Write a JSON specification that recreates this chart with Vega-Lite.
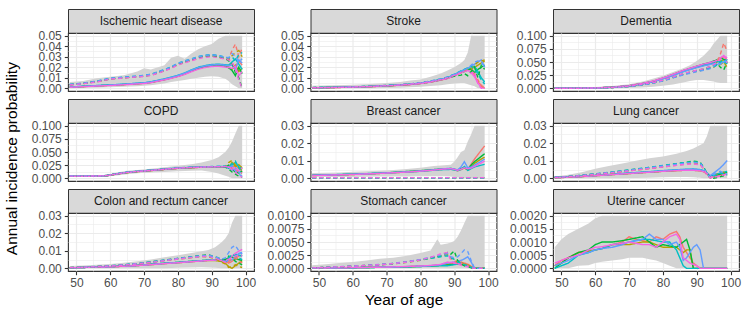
{
"$schema":"https://vega.github.io/schema/vega-lite/v6.json",
"padding":{"left":5,"top":8,"right":5,"bottom":5},
"title":{"text":"Annual incidence probability","orient":"left","anchor":"middle","fontSize":15.5,"fontWeight":"normal","font":"Liberation Sans","color":"#000000","offset":10},
"config":{
 "font":"Liberation Sans",
 "view":{"stroke":"#333333","strokeWidth":1.1},
 "axis":{"labelFont":"Liberation Sans","labelFontSize":12,"labelColor":"#4d4d4d","labelPadding":3,"tickColor":"#333333","tickSize":3.7,"tickWidth":1.1,"domain":false,"grid":true,"gridColor":"#ebebeb","titleFont":"Liberation Sans","titleFontSize":15.5,"titleFontWeight":"normal","titleColor":"#000000","titlePadding":4,"labelFlush":false,"labelOverlap":false}
},
"datasets":{"rows":[
{"d":"IHD","a":48,"lo":0,"hi":0.006,"s1":0.0012,"s2":0.0011,"s3":0.0012,"s4":0.0013,"s5":0.0012,"s6":0.001,"t1":0.0035,"t2":0.0033,"t3":0.0034,"t4":0.0037,"t5":0.0036,"t6":0.0032},
{"d":"IHD","a":52,"lo":0.0003,"hi":0.007,"s1":0.0018,"s2":0.0017,"s3":0.0018,"s4":0.002,"s5":0.0019,"s6":0.0016,"t1":0.0048,"t2":0.0046,"t3":0.0047,"t4":0.005,"t5":0.0049,"t6":0.0044},
{"d":"IHD","a":56,"lo":0.0006,"hi":0.0095,"s1":0.0025,"s2":0.0024,"s3":0.0025,"s4":0.0027,"s5":0.0026,"s6":0.0022,"t1":0.0065,"t2":0.0063,"t3":0.0064,"t4":0.0068,"t5":0.0067,"t6":0.006},
{"d":"IHD","a":60,"lo":0.001,"hi":0.011,"s1":0.003,"s2":0.0029,"s3":0.003,"s4":0.0033,"s5":0.0032,"s6":0.0027,"t1":0.0092,"t2":0.009,"t3":0.0091,"t4":0.0096,"t5":0.0095,"t6":0.0088},
{"d":"IHD","a":64,"lo":0.0015,"hi":0.0125,"s1":0.0037,"s2":0.0036,"s3":0.0037,"s4":0.004,"s5":0.0039,"s6":0.0034,"t1":0.0102,"t2":0.01,"t3":0.0101,"t4":0.0106,"t5":0.0105,"t6":0.0098},
{"d":"IHD","a":68,"lo":0.002,"hi":0.016,"s1":0.0046,"s2":0.0044,"s3":0.0045,"s4":0.0049,"s5":0.0048,"s6":0.0042,"t1":0.0112,"t2":0.011,"t3":0.0111,"t4":0.0117,"t5":0.0116,"t6":0.0108},
{"d":"IHD","a":70,"lo":0.0025,"hi":0.019,"s1":0.005,"s2":0.0048,"s3":0.0049,"s4":0.0053,"s5":0.0052,"s6":0.0046,"t1":0.0118,"t2":0.0115,"t3":0.0117,"t4":0.0123,"t5":0.0122,"t6":0.0113},
{"d":"IHD","a":72,"lo":0.003,"hi":0.018,"s1":0.0058,"s2":0.0056,"s3":0.0057,"s4":0.0062,"s5":0.0061,"s6":0.0054,"t1":0.0128,"t2":0.0125,"t3":0.0127,"t4":0.0134,"t5":0.0133,"t6":0.0122},
{"d":"IHD","a":76,"lo":0.0045,"hi":0.022,"s1":0.0085,"s2":0.0082,"s3":0.0084,"s4":0.009,"s5":0.0088,"s6":0.008,"t1":0.0172,"t2":0.0168,"t3":0.017,"t4":0.0178,"t5":0.0176,"t6":0.0165},
{"d":"IHD","a":78,"lo":0.006,"hi":0.029,"s1":0.01,"s2":0.0097,"s3":0.0099,"s4":0.0106,"s5":0.0104,"s6":0.0095,"t1":0.0198,"t2":0.0193,"t3":0.0196,"t4":0.0205,"t5":0.0203,"t6":0.019},
{"d":"IHD","a":80,"lo":0.007,"hi":0.031,"s1":0.0118,"s2":0.0114,"s3":0.0116,"s4":0.0124,"s5":0.0122,"s6":0.0111,"t1":0.023,"t2":0.0225,"t3":0.0228,"t4":0.0238,"t5":0.0236,"t6":0.0222},
{"d":"IHD","a":82,"lo":0.008,"hi":0.028,"s1":0.014,"s2":0.0136,"s3":0.0138,"s4":0.0146,"s5":0.0144,"s6":0.0132,"t1":0.0252,"t2":0.0247,"t3":0.025,"t4":0.026,"t5":0.0258,"t6":0.0243},
{"d":"IHD","a":84,"lo":0.009,"hi":0.033,"s1":0.0168,"s2":0.0163,"s3":0.0166,"s4":0.0175,"s5":0.0172,"s6":0.0158,"t1":0.0272,"t2":0.0266,"t3":0.027,"t4":0.028,"t5":0.0278,"t6":0.0262},
{"d":"IHD","a":86,"lo":0.01,"hi":0.037,"s1":0.0192,"s2":0.0187,"s3":0.019,"s4":0.02,"s5":0.0197,"s6":0.0182,"t1":0.0292,"t2":0.0286,"t3":0.029,"t4":0.0302,"t5":0.0299,"t6":0.0282},
{"d":"IHD","a":88,"lo":0.011,"hi":0.04,"s1":0.0208,"s2":0.0203,"s3":0.0206,"s4":0.0216,"s5":0.0213,"s6":0.0198,"t1":0.0305,"t2":0.03,"t3":0.0303,"t4":0.0315,"t5":0.0312,"t6":0.0295},
{"d":"IHD","a":90,"lo":0.0115,"hi":0.042,"s1":0.0218,"s2":0.0212,"s3":0.0215,"s4":0.0226,"s5":0.0222,"s6":0.0207,"t1":0.031,"t2":0.0305,"t3":0.0308,"t4":0.032,"t5":0.0318,"t6":0.03},
{"d":"IHD","a":92,"lo":0.011,"hi":0.047,"s1":0.0222,"s2":0.0215,"s3":0.0218,"s4":0.023,"s5":0.0226,"s6":0.021,"t1":0.0302,"t2":0.0296,"t3":0.03,"t4":0.0312,"t5":0.031,"t6":0.0292},
{"d":"IHD","a":94,"lo":0.009,"hi":0.05,"s1":0.0215,"s2":0.0208,"s3":0.021,"s4":0.0224,"s5":0.022,"s6":0.0202,"t1":0.0285,"t2":0.028,"t3":0.0283,"t4":0.0295,"t5":0.0292,"t6":0.0275},
{"d":"IHD","a":95,"lo":0.007,"hi":0.05,"s1":0.021,"s2":0.02,"s3":0.0195,"s4":0.022,"s5":0.0215,"s6":0.0198,"t1":0.028,"t2":0.027,"t3":0.026,"t4":0.029,"t5":0.029,"t6":0.027},
{"d":"IHD","a":96,"lo":0.004,"hi":0.05,"s1":0.024,"s2":0.018,"s3":0.017,"s4":0.025,"s5":0.022,"s6":0.019,"t1":0.036,"t2":0.031,"t3":0.024,"t4":0.03,"t5":0.033,"t6":0.025},
{"d":"IHD","a":97,"lo":0.002,"hi":0.05,"s1":0.02,"s2":0.022,"s3":0.012,"s4":0.028,"s5":0.018,"s6":0.021,"t1":0.042,"t2":0.034,"t3":0.015,"t4":0.026,"t5":0.03,"t6":0.018},
{"d":"IHD","a":98,"lo":0,"hi":0.05,"s1":0.026,"s2":0.016,"s3":0.02,"s4":0.023,"s5":0.027,"s6":0.012,"t1":0.03,"t2":0.036,"t3":0.01,"t4":0.032,"t5":0.025,"t6":0.008},
{"d":"IHD","a":99,"lo":0,"hi":0.05,"s1":0.022,"s2":0.019,"s3":0.014,"s4":0.018,"s5":0.024,"s6":0.016,"t1":0.038,"t2":0.03,"t3":0,"t4":0.034,"t5":0.028,"t6":0},

{"d":"STR","a":48,"lo":0,"hi":0.0025,"s1":0.0006,"s2":0.0005,"s3":0.0006,"s4":0.0006,"s5":0.0006,"s6":0.0005,"t1":0.0007,"t2":0.0006,"t3":0.0007,"t4":0.0007,"t5":0.0007,"t6":0.0006},
{"d":"STR","a":55,"lo":0,"hi":0.003,"s1":0.0009,"s2":0.0008,"s3":0.0009,"s4":0.001,"s5":0.0009,"s6":0.0008,"t1":0.001,"t2":0.0009,"t3":0.001,"t4":0.0011,"t5":0.001,"t6":0.0009},
{"d":"STR","a":60,"lo":0,"hi":0.0035,"s1":0.0012,"s2":0.0011,"s3":0.0012,"s4":0.0013,"s5":0.0012,"s6":0.0011,"t1":0.0014,"t2":0.0013,"t3":0.0014,"t4":0.0015,"t5":0.0014,"t6":0.0013},
{"d":"STR","a":65,"lo":0.0002,"hi":0.0042,"s1":0.0017,"s2":0.0016,"s3":0.0017,"s4":0.0018,"s5":0.0017,"s6":0.0016,"t1":0.0019,"t2":0.0018,"t3":0.0019,"t4":0.002,"t5":0.0019,"t6":0.0018},
{"d":"STR","a":70,"lo":0.0004,"hi":0.005,"s1":0.0024,"s2":0.0023,"s3":0.0024,"s4":0.0026,"s5":0.0025,"s6":0.0023,"t1":0.0027,"t2":0.0025,"t3":0.0026,"t4":0.0028,"t5":0.0027,"t6":0.0025},
{"d":"STR","a":74,"lo":0.0007,"hi":0.006,"s1":0.0031,"s2":0.003,"s3":0.0031,"s4":0.0033,"s5":0.0032,"s6":0.003,"t1":0.0034,"t2":0.0032,"t3":0.0033,"t4":0.0035,"t5":0.0034,"t6":0.0032},
{"d":"STR","a":77,"lo":0.001,"hi":0.0075,"s1":0.0038,"s2":0.0037,"s3":0.0038,"s4":0.004,"s5":0.0039,"s6":0.0036,"t1":0.0041,"t2":0.0039,"t3":0.004,"t4":0.0043,"t5":0.0042,"t6":0.0039},
{"d":"STR","a":80,"lo":0.0015,"hi":0.0085,"s1":0.0048,"s2":0.0046,"s3":0.0047,"s4":0.005,"s5":0.0049,"s6":0.0045,"t1":0.0052,"t2":0.005,"t3":0.0051,"t4":0.0054,"t5":0.0053,"t6":0.005},
{"d":"STR","a":83,"lo":0.0022,"hi":0.011,"s1":0.0062,"s2":0.006,"s3":0.0061,"s4":0.0065,"s5":0.0064,"s6":0.0059,"t1":0.0066,"t2":0.0064,"t3":0.0065,"t4":0.0069,"t5":0.0068,"t6":0.0063},
{"d":"STR","a":86,"lo":0.003,"hi":0.014,"s1":0.0082,"s2":0.0079,"s3":0.008,"s4":0.0085,"s5":0.0084,"s6":0.0078,"t1":0.0087,"t2":0.0084,"t3":0.0085,"t4":0.009,"t5":0.0089,"t6":0.0083},
{"d":"STR","a":88,"lo":0.0038,"hi":0.017,"s1":0.0098,"s2":0.0095,"s3":0.0096,"s4":0.0102,"s5":0.01,"s6":0.0093,"t1":0.0104,"t2":0.01,"t3":0.0102,"t4":0.0108,"t5":0.0106,"t6":0.0099},
{"d":"STR","a":90,"lo":0.0045,"hi":0.02,"s1":0.0125,"s2":0.012,"s3":0.0122,"s4":0.013,"s5":0.0128,"s6":0.0118,"t1":0.013,"t2":0.0125,"t3":0.0115,"t4":0.0135,"t5":0.0132,"t6":0.0123},
{"d":"STR","a":92,"lo":0.005,"hi":0.024,"s1":0.0155,"s2":0.015,"s3":0.0152,"s4":0.0162,"s5":0.016,"s6":0.0148,"t1":0.0158,"t2":0.015,"t3":0.0125,"t4":0.0165,"t5":0.016,"t6":0.0148},
{"d":"STR","a":93,"lo":0.005,"hi":0.027,"s1":0.017,"s2":0.0165,"s3":0.016,"s4":0.0178,"s5":0.0175,"s6":0.016,"t1":0.0172,"t2":0.0165,"t3":0.014,"t4":0.018,"t5":0.0176,"t6":0.016},
{"d":"STR","a":94,"lo":0.004,"hi":0.034,"s1":0.0185,"s2":0.018,"s3":0.0175,"s4":0.0192,"s5":0.019,"s6":0.0172,"t1":0.019,"t2":0.0175,"t3":0.012,"t4":0.0195,"t5":0.019,"t6":0.017},
{"d":"STR","a":95,"lo":0.003,"hi":0.05,"s1":0.0175,"s2":0.019,"s3":0.0185,"s4":0.02,"s5":0.021,"s6":0.015,"t1":0.02,"t2":0.018,"t3":0.016,"t4":0.021,"t5":0.022,"t6":0.014},
{"d":"STR","a":96,"lo":0.002,"hi":0.05,"s1":0.012,"s2":0.02,"s3":0.015,"s4":0.021,"s5":0.023,"s6":0.011,"t1":0.014,"t2":0.022,"t3":0.02,"t4":0.018,"t5":0.025,"t6":0.016},
{"d":"STR","a":97,"lo":0,"hi":0.05,"s1":0.006,"s2":0.022,"s3":0.018,"s4":0.016,"s5":0.025,"s6":0.005,"t1":0.008,"t2":0.025,"t3":0.01,"t4":0.014,"t5":0.026,"t6":0.004},
{"d":"STR","a":98,"lo":0,"hi":0.05,"s1":0.003,"s2":0.024,"s3":0.02,"s4":0.01,"s5":0.027,"s6":0.001,"t1":0.002,"t2":0.026,"t3":0.022,"t4":0.008,"t5":0.024,"t6":0},
{"d":"STR","a":99,"lo":0,"hi":0.05,"s1":0,"s2":0.026,"s3":0.022,"s4":0.006,"s5":0.02,"s6":0,"t1":0,"t2":0.027,"t3":0.018,"t4":0.004,"t5":0.021,"t6":0},

{"d":"DEM","a":48,"lo":0,"hi":0.001,"s1":0.0002,"s2":0.0002,"s3":0.0002,"s4":0.0002,"s5":0.0002,"s6":0.0002,"t1":0.0001,"t2":0.0001,"t3":0.0001,"t4":0.0001,"t5":0.0001,"t6":0.0001},
{"d":"DEM","a":55,"lo":0,"hi":0.0015,"s1":0.0005,"s2":0.0005,"s3":0.0005,"s4":0.0005,"s5":0.0005,"s6":0.0005,"t1":0.0003,"t2":0.0003,"t3":0.0003,"t4":0.0003,"t5":0.0003,"t6":0.0003},
{"d":"DEM","a":60,"lo":0,"hi":0.0025,"s1":0.0009,"s2":0.0008,"s3":0.0009,"s4":0.0009,"s5":0.0008,"s6":0.001,"t1":0.0006,"t2":0.0006,"t3":0.0006,"t4":0.0006,"t5":0.0006,"t6":0.0007},
{"d":"DEM","a":65,"lo":0.0002,"hi":0.0045,"s1":0.0021,"s2":0.002,"s3":0.0021,"s4":0.002,"s5":0.0019,"s6":0.0023,"t1":0.0016,"t2":0.0015,"t3":0.0016,"t4":0.0015,"t5":0.0015,"t6":0.0017},
{"d":"DEM","a":70,"lo":0.0006,"hi":0.008,"s1":0.0049,"s2":0.0047,"s3":0.0049,"s4":0.0047,"s5":0.0045,"s6":0.0052,"t1":0.0038,"t2":0.0036,"t3":0.0038,"t4":0.0036,"t5":0.0035,"t6":0.004},
{"d":"DEM","a":74,"lo":0.0016,"hi":0.013,"s1":0.0091,"s2":0.0088,"s3":0.0092,"s4":0.0088,"s5":0.0085,"s6":0.0096,"t1":0.0072,"t2":0.007,"t3":0.0073,"t4":0.007,"t5":0.0068,"t6":0.0076},
{"d":"DEM","a":77,"lo":0.003,"hi":0.018,"s1":0.0131,"s2":0.0127,"s3":0.0133,"s4":0.0127,"s5":0.0123,"s6":0.0138,"t1":0.0105,"t2":0.0101,"t3":0.0106,"t4":0.0102,"t5":0.0098,"t6":0.011},
{"d":"DEM","a":80,"lo":0.005,"hi":0.024,"s1":0.0191,"s2":0.0185,"s3":0.0194,"s4":0.0186,"s5":0.018,"s6":0.0198,"t1":0.015,"t2":0.0146,"t3":0.0152,"t4":0.0147,"t5":0.0142,"t6":0.0157},
{"d":"DEM","a":83,"lo":0.0075,"hi":0.031,"s1":0.026,"s2":0.0252,"s3":0.0265,"s4":0.0254,"s5":0.0246,"s6":0.0268,"t1":0.021,"t2":0.0204,"t3":0.0213,"t4":0.0206,"t5":0.0198,"t6":0.0218},
{"d":"DEM","a":86,"lo":0.011,"hi":0.038,"s1":0.0332,"s2":0.0322,"s3":0.0338,"s4":0.0325,"s5":0.0315,"s6":0.0342,"t1":0.027,"t2":0.0262,"t3":0.0275,"t4":0.0265,"t5":0.0255,"t6":0.028},
{"d":"DEM","a":88,"lo":0.014,"hi":0.044,"s1":0.0372,"s2":0.0362,"s3":0.0378,"s4":0.0365,"s5":0.0355,"s6":0.0382,"t1":0.0302,"t2":0.0294,"t3":0.0308,"t4":0.0297,"t5":0.0287,"t6":0.0312},
{"d":"DEM","a":90,"lo":0.016,"hi":0.052,"s1":0.0412,"s2":0.04,"s3":0.042,"s4":0.0405,"s5":0.0392,"s6":0.0422,"t1":0.0332,"t2":0.0322,"t3":0.0338,"t4":0.0327,"t5":0.0317,"t6":0.0343},
{"d":"DEM","a":92,"lo":0.016,"hi":0.062,"s1":0.0448,"s2":0.0435,"s3":0.0458,"s4":0.044,"s5":0.0425,"s6":0.046,"t1":0.036,"t2":0.035,"t3":0.0368,"t4":0.0355,"t5":0.034,"t6":0.0372},
{"d":"DEM","a":94,"lo":0.014,"hi":0.075,"s1":0.0478,"s2":0.0465,"s3":0.049,"s4":0.047,"s5":0.0455,"s6":0.049,"t1":0.04,"t2":0.0385,"t3":0.041,"t4":0.039,"t5":0.0375,"t6":0.0415},
{"d":"DEM","a":95,"lo":0.013,"hi":0.085,"s1":0.05,"s2":0.048,"s3":0.052,"s4":0.0485,"s5":0.047,"s6":0.051,"t1":0.043,"t2":0.04,"t3":0.044,"t4":0.041,"t5":0.042,"t6":0.045},
{"d":"DEM","a":96,"lo":0.011,"hi":0.092,"s1":0.053,"s2":0.05,"s3":0.054,"s4":0.051,"s5":0.045,"s6":0.053,"t1":0.05,"t2":0.046,"t3":0.047,"t4":0.044,"t5":0.048,"t6":0.05},
{"d":"DEM","a":97,"lo":0.01,"hi":0.1,"s1":0.056,"s2":0.052,"s3":0.058,"s4":0.05,"s5":0.048,"s6":0.058,"t1":0.065,"t2":0.045,"t3":0.04,"t4":0.05,"t5":0.046,"t6":0.055},
{"d":"DEM","a":98,"lo":0.01,"hi":0.1,"s1":0.06,"s2":0.054,"s3":0.055,"s4":0.049,"s5":0.05,"s6":0.062,"t1":0.086,"t2":0.05,"t3":0.035,"t4":0.055,"t5":0.052,"t6":0.062},
{"d":"DEM","a":99,"lo":0.01,"hi":0.1,"s1":0.054,"s2":0.05,"s3":0.053,"s4":0.047,"s5":0.055,"s6":0.058,"t1":0.07,"t2":0.04,"t3":0.05,"t4":0.045,"t5":0.05,"t6":0.048},

{"d":"COPD","a":48,"lo":0.003,"hi":0.005,"s1":0.0042,"s2":0.0041,"s3":0.0042,"s4":0.0043,"s5":0.0042,"s6":0.0041,"t1":0.0044,"t2":0.0043,"t3":0.0044,"t4":0.0045,"t5":0.0044,"t6":0.0043},
{"d":"COPD","a":52,"lo":0.003,"hi":0.005,"s1":0.0042,"s2":0.0041,"s3":0.0042,"s4":0.0043,"s5":0.0042,"s6":0.0041,"t1":0.0044,"t2":0.0043,"t3":0.0044,"t4":0.0045,"t5":0.0044,"t6":0.0043},
{"d":"COPD","a":56,"lo":0.003,"hi":0.0052,"s1":0.0043,"s2":0.0042,"s3":0.0043,"s4":0.0044,"s5":0.0043,"s6":0.0042,"t1":0.0045,"t2":0.0044,"t3":0.0045,"t4":0.0046,"t5":0.0045,"t6":0.0044},
{"d":"COPD","a":59,"lo":0.0035,"hi":0.0065,"s1":0.0052,"s2":0.0051,"s3":0.0052,"s4":0.0053,"s5":0.0052,"s6":0.0051,"t1":0.0054,"t2":0.0053,"t3":0.0054,"t4":0.0055,"t5":0.0054,"t6":0.0053},
{"d":"COPD","a":62,"lo":0.0055,"hi":0.011,"s1":0.0085,"s2":0.0083,"s3":0.0085,"s4":0.0087,"s5":0.0086,"s6":0.0084,"t1":0.0087,"t2":0.0085,"t3":0.0087,"t4":0.0089,"t5":0.0088,"t6":0.0086},
{"d":"COPD","a":65,"lo":0.008,"hi":0.0145,"s1":0.0112,"s2":0.011,"s3":0.0112,"s4":0.0115,"s5":0.0114,"s6":0.0111,"t1":0.0114,"t2":0.0112,"t3":0.0114,"t4":0.0117,"t5":0.0116,"t6":0.0113},
{"d":"COPD","a":68,"lo":0.0095,"hi":0.016,"s1":0.013,"s2":0.0128,"s3":0.013,"s4":0.0133,"s5":0.0132,"s6":0.0129,"t1":0.0132,"t2":0.013,"t3":0.0132,"t4":0.0135,"t5":0.0134,"t6":0.0131},
{"d":"COPD","a":72,"lo":0.011,"hi":0.018,"s1":0.015,"s2":0.0148,"s3":0.015,"s4":0.0153,"s5":0.0152,"s6":0.0149,"t1":0.0152,"t2":0.015,"t3":0.0152,"t4":0.0155,"t5":0.0154,"t6":0.0151},
{"d":"COPD","a":76,"lo":0.012,"hi":0.021,"s1":0.0172,"s2":0.017,"s3":0.0172,"s4":0.0175,"s5":0.0174,"s6":0.0171,"t1":0.0174,"t2":0.0172,"t3":0.0174,"t4":0.0177,"t5":0.0176,"t6":0.0173},
{"d":"COPD","a":80,"lo":0.0135,"hi":0.024,"s1":0.0192,"s2":0.019,"s3":0.0192,"s4":0.0196,"s5":0.0195,"s6":0.0191,"t1":0.0194,"t2":0.0192,"t3":0.0194,"t4":0.0198,"t5":0.0197,"t6":0.0193},
{"d":"COPD","a":84,"lo":0.0145,"hi":0.027,"s1":0.0205,"s2":0.0203,"s3":0.0205,"s4":0.0209,"s5":0.0208,"s6":0.0204,"t1":0.0207,"t2":0.0205,"t3":0.0207,"t4":0.0211,"t5":0.021,"t6":0.0206},
{"d":"COPD","a":87,"lo":0.015,"hi":0.03,"s1":0.0212,"s2":0.021,"s3":0.0212,"s4":0.0216,"s5":0.0215,"s6":0.0211,"t1":0.0214,"t2":0.0212,"t3":0.0214,"t4":0.0218,"t5":0.0217,"t6":0.0213},
{"d":"COPD","a":90,"lo":0.012,"hi":0.035,"s1":0.0218,"s2":0.0215,"s3":0.0217,"s4":0.0222,"s5":0.022,"s6":0.0216,"t1":0.022,"t2":0.0217,"t3":0.0219,"t4":0.0224,"t5":0.0222,"t6":0.0218},
{"d":"COPD","a":92,"lo":0.009,"hi":0.04,"s1":0.022,"s2":0.0217,"s3":0.0219,"s4":0.0224,"s5":0.0222,"s6":0.0218,"t1":0.0222,"t2":0.0219,"t3":0.0221,"t4":0.0226,"t5":0.0224,"t6":0.022},
{"d":"COPD","a":94,"lo":0.005,"hi":0.05,"s1":0.0222,"s2":0.0218,"s3":0.0215,"s4":0.0228,"s5":0.0224,"s6":0.022,"t1":0.0225,"t2":0.022,"t3":0.0212,"t4":0.023,"t5":0.0226,"t6":0.0222},
{"d":"COPD","a":95,"lo":0.003,"hi":0.058,"s1":0.024,"s2":0.02,"s3":0.025,"s4":0.019,"s5":0.022,"s6":0.021,"t1":0.026,"t2":0.03,"t3":0.018,"t4":0.022,"t5":0.02,"t6":0.023},
{"d":"COPD","a":96,"lo":0,"hi":0.07,"s1":0.02,"s2":0.03,"s3":0.017,"s4":0.025,"s5":0.015,"s6":0.022,"t1":0.018,"t2":0.034,"t3":0.012,"t4":0.028,"t5":0.024,"t6":0.016},
{"d":"COPD","a":97,"lo":0,"hi":0.085,"s1":0.025,"s2":0.022,"s3":0.012,"s4":0.03,"s5":0.02,"s6":0.017,"t1":0.015,"t2":0.025,"t3":0.008,"t4":0.033,"t5":0.014,"t6":0.012},
{"d":"COPD","a":98,"lo":0,"hi":0.1,"s1":0.018,"s2":0.026,"s3":0.01,"s4":0.022,"s5":0.012,"s6":0.015,"t1":0.012,"t2":0.02,"t3":0.004,"t4":0.02,"t5":0.008,"t6":0.006},
{"d":"COPD","a":99,"lo":0,"hi":0.1,"s1":0.015,"s2":0.02,"s3":0.014,"s4":0.018,"s5":0.01,"s6":0.02,"t1":0.01,"t2":0.015,"t3":0.002,"t4":0.012,"t5":0.004,"t6":0.002},

{"d":"BR","a":48,"lo":0.0008,"hi":0.003,"s1":0.0017,"s2":0.0016,"s3":0.0017,"s4":0.0018,"s5":0.0017,"s6":0.0016,"t1":0.0003,"t2":0.0002,"t3":0.0003,"t4":0.0003,"t5":0.0003,"t6":0.0004},
{"d":"BR","a":52,"lo":0.0008,"hi":0.0032,"s1":0.0019,"s2":0.0018,"s3":0.0019,"s4":0.002,"s5":0.0019,"s6":0.0018,"t1":0.0003,"t2":0.0002,"t3":0.0003,"t4":0.0003,"t5":0.0003,"t6":0.0004},
{"d":"BR","a":56,"lo":0.0008,"hi":0.0034,"s1":0.0021,"s2":0.002,"s3":0.0021,"s4":0.0022,"s5":0.0021,"s6":0.002,"t1":0.0003,"t2":0.0002,"t3":0.0003,"t4":0.0003,"t5":0.0003,"t6":0.0004},
{"d":"BR","a":60,"lo":0.0008,"hi":0.0037,"s1":0.0023,"s2":0.0022,"s3":0.0023,"s4":0.0024,"s5":0.0023,"s6":0.0022,"t1":0.0003,"t2":0.0002,"t3":0.0003,"t4":0.0003,"t5":0.0003,"t6":0.0004},
{"d":"BR","a":64,"lo":0.0009,"hi":0.004,"s1":0.0026,"s2":0.0025,"s3":0.0026,"s4":0.0027,"s5":0.0026,"s6":0.0025,"t1":0.0003,"t2":0.0002,"t3":0.0003,"t4":0.0003,"t5":0.0003,"t6":0.0004},
{"d":"BR","a":68,"lo":0.001,"hi":0.0044,"s1":0.0029,"s2":0.0028,"s3":0.0029,"s4":0.003,"s5":0.0029,"s6":0.0028,"t1":0.0003,"t2":0.0002,"t3":0.0003,"t4":0.0003,"t5":0.0003,"t6":0.0004},
{"d":"BR","a":72,"lo":0.001,"hi":0.0048,"s1":0.0033,"s2":0.0032,"s3":0.0034,"s4":0.0033,"s5":0.0033,"s6":0.0032,"t1":0.0003,"t2":0.0002,"t3":0.0003,"t4":0.0003,"t5":0.0003,"t6":0.0004},
{"d":"BR","a":76,"lo":0.0011,"hi":0.0053,"s1":0.0037,"s2":0.0036,"s3":0.0039,"s4":0.0036,"s5":0.0037,"s6":0.0036,"t1":0.0003,"t2":0.0002,"t3":0.0003,"t4":0.0003,"t5":0.0003,"t6":0.0004},
{"d":"BR","a":80,"lo":0.0012,"hi":0.006,"s1":0.0042,"s2":0.0041,"s3":0.0044,"s4":0.004,"s5":0.0042,"s6":0.0041,"t1":0.0003,"t2":0.0002,"t3":0.0003,"t4":0.0003,"t5":0.0003,"t6":0.0004},
{"d":"BR","a":84,"lo":0.0012,"hi":0.007,"s1":0.0048,"s2":0.0047,"s3":0.005,"s4":0.0046,"s5":0.0049,"s6":0.0047,"t1":0.0003,"t2":0.0002,"t3":0.0003,"t4":0.0003,"t5":0.0003,"t6":0.0004},
{"d":"BR","a":87,"lo":0.0012,"hi":0.0075,"s1":0.0053,"s2":0.0052,"s3":0.0054,"s4":0.005,"s5":0.0055,"s6":0.0053,"t1":0.0003,"t2":0.0002,"t3":0.0003,"t4":0.0003,"t5":0.0003,"t6":0.0004},
{"d":"BR","a":89,"lo":0.001,"hi":0.0078,"s1":0.0054,"s2":0.0053,"s3":0.0056,"s4":0.0051,"s5":0.0057,"s6":0.0055,"t1":0.0003,"t2":0.0002,"t3":0.0003,"t4":0.0003,"t5":0.0003,"t6":0.0004},
{"d":"BR","a":90,"lo":0.0008,"hi":0.0095,"s1":0.005,"s2":0.005,"s3":0.0052,"s4":0.0048,"s5":0.0053,"s6":0.0051,"t1":0.0003,"t2":0.0002,"t3":0.0003,"t4":0.0003,"t5":0.0003,"t6":0.0004},
{"d":"BR","a":91,"lo":0.0005,"hi":0.012,"s1":0.0043,"s2":0.0045,"s3":0.0047,"s4":0.0044,"s5":0.0048,"s6":0.0046,"t1":0.0003,"t2":0.0002,"t3":0.0003,"t4":0.0003,"t5":0.0003,"t6":0.0004},
{"d":"BR","a":92,"lo":0.0003,"hi":0.015,"s1":0.005,"s2":0.0052,"s3":0.0055,"s4":0.005,"s5":0.0065,"s6":0.0052,"t1":0.0003,"t2":0.0002,"t3":0.0003,"t4":0.0003,"t5":0.0003,"t6":0.0004},
{"d":"BR","a":93,"lo":0,"hi":0.016,"s1":0.006,"s2":0.0058,"s3":0.0062,"s4":0.0068,"s5":0.0095,"s6":0.006,"t1":0.0003,"t2":0.0002,"t3":0.0003,"t4":0.0003,"t5":0.0003,"t6":0.0004},
{"d":"BR","a":94,"lo":0,"hi":0.021,"s1":0.005,"s2":0.0048,"s3":0.0052,"s4":0.0045,"s5":0.006,"s6":0.0055,"t1":0.0003,"t2":0.0002,"t3":0.0003,"t4":0.0003,"t5":0.0003,"t6":0.0004},
{"d":"BR","a":95,"lo":0,"hi":0.025,"s1":0.008,"s2":0.0065,"s3":0.0075,"s4":0.0055,"s5":0.0065,"s6":0.0058,"t1":0.0003,"t2":0.0002,"t3":0.0003,"t4":0.0003,"t5":0.0003,"t6":0.0004},
{"d":"BR","a":96,"lo":0,"hi":0.03,"s1":0.011,"s2":0.0085,"s3":0.0095,"s4":0.0065,"s5":0.0075,"s6":0.0068,"t1":0.0003,"t2":0.0002,"t3":0.0003,"t4":0.0003,"t5":0.0003,"t6":0.0004},
{"d":"BR","a":97,"lo":0,"hi":0.03,"s1":0.0135,"s2":0.0098,"s3":0.011,"s4":0.007,"s5":0.0087,"s6":0.0078,"t1":0.0003,"t2":0.0002,"t3":0.0003,"t4":0.0003,"t5":0.0003,"t6":0.0004},
{"d":"BR","a":98,"lo":0,"hi":0.03,"s1":0.016,"s2":0.011,"s3":0.0125,"s4":0.0075,"s5":0.0098,"s6":0.0088,"t1":0.0003,"t2":0.0002,"t3":0.0003,"t4":0.0003,"t5":0.0003,"t6":0.0004},
{"d":"BR","a":99,"lo":0,"hi":0.03,"s1":0.0185,"s2":0.012,"s3":0.014,"s4":0.008,"s5":0.011,"s6":0.0098,"t1":0.0003,"t2":0.0002,"t3":0.0003,"t4":0.0003,"t5":0.0003,"t6":0.0004},

{"d":"LU","a":48,"lo":0,"hi":0.001,"s1":0.0004,"s2":0.0004,"s3":0.0004,"s4":0.0005,"s5":0.0004,"s6":0.0004,"t1":0.0006,"t2":0.0005,"t3":0.0006,"t4":0.0006,"t5":0.0006,"t6":0.0005},
{"d":"LU","a":52,"lo":0,"hi":0.002,"s1":0.0007,"s2":0.0006,"s3":0.0007,"s4":0.0008,"s5":0.0007,"s6":0.0006,"t1":0.001,"t2":0.0009,"t3":0.001,"t4":0.0011,"t5":0.001,"t6":0.0009},
{"d":"LU","a":56,"lo":0,"hi":0.0035,"s1":0.0011,"s2":0.001,"s3":0.0011,"s4":0.0012,"s5":0.0011,"s6":0.001,"t1":0.0016,"t2":0.0015,"t3":0.0017,"t4":0.0017,"t5":0.0016,"t6":0.0015},
{"d":"LU","a":60,"lo":0,"hi":0.0055,"s1":0.0016,"s2":0.0015,"s3":0.0016,"s4":0.0017,"s5":0.0016,"s6":0.0015,"t1":0.0024,"t2":0.0023,"t3":0.0025,"t4":0.0026,"t5":0.0025,"t6":0.0023},
{"d":"LU","a":64,"lo":0,"hi":0.007,"s1":0.0021,"s2":0.002,"s3":0.0021,"s4":0.0022,"s5":0.0021,"s6":0.002,"t1":0.0031,"t2":0.003,"t3":0.0033,"t4":0.0034,"t5":0.0033,"t6":0.003},
{"d":"LU","a":68,"lo":0,"hi":0.0085,"s1":0.0026,"s2":0.0025,"s3":0.0026,"s4":0.0028,"s5":0.0027,"s6":0.0025,"t1":0.0039,"t2":0.0038,"t3":0.0042,"t4":0.0043,"t5":0.0041,"t6":0.0038},
{"d":"LU","a":72,"lo":0.0002,"hi":0.01,"s1":0.0031,"s2":0.003,"s3":0.0031,"s4":0.0033,"s5":0.0032,"s6":0.003,"t1":0.0049,"t2":0.0047,"t3":0.0052,"t4":0.0053,"t5":0.0051,"t6":0.0047},
{"d":"LU","a":76,"lo":0.0004,"hi":0.0115,"s1":0.0036,"s2":0.0035,"s3":0.0036,"s4":0.0038,"s5":0.0037,"s6":0.0035,"t1":0.0058,"t2":0.0056,"t3":0.0062,"t4":0.0063,"t5":0.006,"t6":0.0056},
{"d":"LU","a":80,"lo":0.0006,"hi":0.0125,"s1":0.0041,"s2":0.004,"s3":0.0041,"s4":0.0044,"s5":0.0043,"s6":0.004,"t1":0.0067,"t2":0.0065,"t3":0.0072,"t4":0.0073,"t5":0.007,"t6":0.0065},
{"d":"LU","a":84,"lo":0.0008,"hi":0.014,"s1":0.0045,"s2":0.0044,"s3":0.0046,"s4":0.0049,"s5":0.0048,"s6":0.0044,"t1":0.0077,"t2":0.0075,"t3":0.0083,"t4":0.0084,"t5":0.008,"t6":0.0074},
{"d":"LU","a":87,"lo":0.0008,"hi":0.0155,"s1":0.0048,"s2":0.0046,"s3":0.0049,"s4":0.0052,"s5":0.0051,"s6":0.0046,"t1":0.0085,"t2":0.0082,"t3":0.0092,"t4":0.0091,"t5":0.0088,"t6":0.008},
{"d":"LU","a":89,"lo":0.0006,"hi":0.017,"s1":0.0048,"s2":0.0046,"s3":0.005,"s4":0.0053,"s5":0.0052,"s6":0.0046,"t1":0.0088,"t2":0.0085,"t3":0.0098,"t4":0.0093,"t5":0.009,"t6":0.0082},
{"d":"LU","a":91,"lo":0.0003,"hi":0.019,"s1":0.0045,"s2":0.0043,"s3":0.0047,"s4":0.005,"s5":0.0049,"s6":0.0043,"t1":0.0086,"t2":0.008,"t3":0.0092,"t4":0.009,"t5":0.0088,"t6":0.0078},
{"d":"LU","a":92,"lo":0,"hi":0.02,"s1":0.004,"s2":0.0038,"s3":0.0042,"s4":0.0044,"s5":0.0043,"s6":0.0038,"t1":0.006,"t2":0.0055,"t3":0.0065,"t4":0.0062,"t5":0.006,"t6":0.0055},
{"d":"LU","a":93,"lo":0,"hi":0.024,"s1":0.003,"s2":0.0028,"s3":0.003,"s4":0.0032,"s5":0.0032,"s6":0.0028,"t1":0.0025,"t2":0.002,"t3":0.003,"t4":0.0028,"t5":0.0026,"t6":0.002},
{"d":"LU","a":94,"lo":0,"hi":0.03,"s1":0.0012,"s2":0.001,"s3":0.0012,"s4":0.0014,"s5":0.0016,"s6":0.001,"t1":0.0003,"t2":0.0002,"t3":0.0004,"t4":0.0005,"t5":0.0004,"t6":0.0003},
{"d":"LU","a":95,"lo":0,"hi":0.03,"s1":0.0012,"s2":0.001,"s3":0.0015,"s4":0.002,"s5":0.003,"s6":0.0008,"t1":0.0005,"t2":0.001,"t3":0,"t4":0.0015,"t5":0.002,"t6":0.0006},
{"d":"LU","a":96,"lo":0,"hi":0.03,"s1":0.002,"s2":0.0015,"s3":0.002,"s4":0.0025,"s5":0.0045,"s6":0.001,"t1":0.001,"t2":0.0025,"t3":0.0005,"t4":0.002,"t5":0.0035,"t6":0.001},
{"d":"LU","a":97,"lo":0,"hi":0.03,"s1":0.0025,"s2":0.002,"s3":0.0025,"s4":0.003,"s5":0.006,"s6":0.0015,"t1":0.0015,"t2":0.003,"t3":0.001,"t4":0.003,"t5":0.004,"t6":0.0015},
{"d":"LU","a":98,"lo":0,"hi":0.03,"s1":0.003,"s2":0.0025,"s3":0.003,"s4":0.0035,"s5":0.008,"s6":0.002,"t1":0.002,"t2":0.0035,"t3":0.0015,"t4":0.0025,"t5":0.003,"t6":0.002},
{"d":"LU","a":99,"lo":0,"hi":0.03,"s1":0.0035,"s2":0.003,"s3":0.0035,"s4":0.004,"s5":0.0102,"s6":0.0025,"t1":0.0025,"t2":0.003,"t3":0.002,"t4":0.002,"t5":0.0025,"t6":0.0025},

{"d":"CO","a":48,"lo":0,"hi":0.0013,"s1":0.0003,"s2":0.0003,"s3":0.0003,"s4":0.0003,"s5":0.0003,"s6":0.0003,"t1":0.0004,"t2":0.0004,"t3":0.0004,"t4":0.0004,"t5":0.0004,"t6":0.0004},
{"d":"CO","a":52,"lo":0,"hi":0.0016,"s1":0.0005,"s2":0.0005,"s3":0.0005,"s4":0.0005,"s5":0.0005,"s6":0.0005,"t1":0.0007,"t2":0.0007,"t3":0.0007,"t4":0.0007,"t5":0.0007,"t6":0.0007},
{"d":"CO","a":56,"lo":0,"hi":0.002,"s1":0.0007,"s2":0.0007,"s3":0.0007,"s4":0.0008,"s5":0.0007,"s6":0.0007,"t1":0.001,"t2":0.001,"t3":0.001,"t4":0.0011,"t5":0.001,"t6":0.001},
{"d":"CO","a":60,"lo":0,"hi":0.0025,"s1":0.0009,"s2":0.0009,"s3":0.001,"s4":0.001,"s5":0.0009,"s6":0.0009,"t1":0.0013,"t2":0.0013,"t3":0.0014,"t4":0.0014,"t5":0.0014,"t6":0.0013},
{"d":"CO","a":64,"lo":0,"hi":0.0032,"s1":0.0012,"s2":0.0012,"s3":0.0013,"s4":0.0013,"s5":0.0012,"s6":0.0012,"t1":0.0019,"t2":0.0018,"t3":0.002,"t4":0.002,"t5":0.002,"t6":0.0018},
{"d":"CO","a":68,"lo":0,"hi":0.004,"s1":0.0016,"s2":0.0016,"s3":0.0017,"s4":0.0017,"s5":0.0016,"s6":0.0016,"t1":0.0026,"t2":0.0025,"t3":0.0027,"t4":0.0027,"t5":0.0027,"t6":0.0025},
{"d":"CO","a":72,"lo":0,"hi":0.005,"s1":0.0022,"s2":0.0021,"s3":0.0023,"s4":0.0023,"s5":0.0022,"s6":0.0021,"t1":0.0035,"t2":0.0034,"t3":0.0037,"t4":0.0036,"t5":0.0036,"t6":0.0034},
{"d":"CO","a":76,"lo":0.0001,"hi":0.0063,"s1":0.0028,"s2":0.0027,"s3":0.0029,"s4":0.0029,"s5":0.0028,"s6":0.0027,"t1":0.0045,"t2":0.0044,"t3":0.0047,"t4":0.0046,"t5":0.0046,"t6":0.0043},
{"d":"CO","a":80,"lo":0.0003,"hi":0.0075,"s1":0.0033,"s2":0.0032,"s3":0.0034,"s4":0.0034,"s5":0.0033,"s6":0.0032,"t1":0.0055,"t2":0.0053,"t3":0.0057,"t4":0.0056,"t5":0.0056,"t6":0.0053},
{"d":"CO","a":84,"lo":0.0005,"hi":0.0088,"s1":0.0039,"s2":0.0038,"s3":0.004,"s4":0.004,"s5":0.0039,"s6":0.0038,"t1":0.0063,"t2":0.0061,"t3":0.0066,"t4":0.0064,"t5":0.0065,"t6":0.0061},
{"d":"CO","a":87,"lo":0.0006,"hi":0.0098,"s1":0.0043,"s2":0.0042,"s3":0.0044,"s4":0.0044,"s5":0.0043,"s6":0.0042,"t1":0.007,"t2":0.0067,"t3":0.0074,"t4":0.007,"t5":0.0072,"t6":0.0067},
{"d":"CO","a":89,"lo":0.0005,"hi":0.0105,"s1":0.0046,"s2":0.0044,"s3":0.0047,"s4":0.0047,"s5":0.0046,"s6":0.0045,"t1":0.0072,"t2":0.0066,"t3":0.0077,"t4":0.0071,"t5":0.0075,"t6":0.0068},
{"d":"CO","a":91,"lo":0.0003,"hi":0.012,"s1":0.0048,"s2":0.0045,"s3":0.0049,"s4":0.0048,"s5":0.0048,"s6":0.0047,"t1":0.0062,"t2":0.0055,"t3":0.0066,"t4":0.006,"t5":0.0066,"t6":0.0058},
{"d":"CO","a":93,"lo":0,"hi":0.015,"s1":0.0045,"s2":0.0038,"s3":0.0048,"s4":0.0044,"s5":0.0046,"s6":0.0046,"t1":0.0045,"t2":0.0035,"t3":0.0052,"t4":0.0047,"t5":0.0052,"t6":0.0044},
{"d":"CO","a":94,"lo":0,"hi":0.017,"s1":0.004,"s2":0.003,"s3":0.005,"s4":0.0035,"s5":0.0045,"s6":0.0042,"t1":0.003,"t2":0.0025,"t3":0.005,"t4":0.004,"t5":0.006,"t6":0.0035},
{"d":"CO","a":95,"lo":0,"hi":0.02,"s1":0.003,"s2":0.001,"s3":0.006,"s4":0.005,"s5":0.004,"s6":0.0055,"t1":0.004,"t2":0.0005,"t3":0.007,"t4":0.006,"t5":0.009,"t6":0.005},
{"d":"CO","a":96,"lo":0,"hi":0.026,"s1":0.004,"s2":0,"s3":0.0065,"s4":0.007,"s5":0.005,"s6":0.007,"t1":0.0055,"t2":0.001,"t3":0.006,"t4":0.008,"t5":0.012,"t6":0.0065},
{"d":"CO","a":97,"lo":0,"hi":0.03,"s1":0.0055,"s2":0.0015,"s3":0.0055,"s4":0.008,"s5":0.0065,"s6":0.0085,"t1":0.006,"t2":0.002,"t3":0.004,"t4":0.007,"t5":0.013,"t6":0.007},
{"d":"CO","a":98,"lo":0,"hi":0.03,"s1":0.007,"s2":0.003,"s3":0.005,"s4":0.0075,"s5":0.0085,"s6":0.0098,"t1":0.0045,"t2":0.001,"t3":0.003,"t4":0.006,"t5":0.01,"t6":0.0075},
{"d":"CO","a":99,"lo":0,"hi":0.03,"s1":0.0075,"s2":0.004,"s3":0.0045,"s4":0.007,"s5":0.009,"s6":0.0108,"t1":0.003,"t2":0.0005,"t3":0.002,"t4":0.005,"t5":0.008,"t6":0.007},

{"d":"ST","a":48,"lo":0,"hi":0.0006,"s1":0.00005,"s2":0.00005,"s3":0.00004,"s4":0.00004,"s5":0.00005,"s6":0.00006,"t1":0.0001,"t2":0.0001,"t3":0.0001,"t4":0.0001,"t5":0.0001,"t6":0.0001},
{"d":"ST","a":52,"lo":0,"hi":0.0008,"s1":0.00007,"s2":0.00007,"s3":0.00006,"s4":0.00006,"s5":0.00007,"s6":0.00008,"t1":0.00018,"t2":0.00017,"t3":0.00018,"t4":0.00018,"t5":0.00019,"t6":0.00018},
{"d":"ST","a":56,"lo":0,"hi":0.001,"s1":0.0001,"s2":0.0001,"s3":0.00009,"s4":0.00009,"s5":0.0001,"s6":0.00011,"t1":0.0003,"t2":0.00028,"t3":0.0003,"t4":0.0003,"t5":0.00031,"t6":0.0003},
{"d":"ST","a":60,"lo":0,"hi":0.0012,"s1":0.00013,"s2":0.00013,"s3":0.00012,"s4":0.00012,"s5":0.00013,"s6":0.00014,"t1":0.0004,"t2":0.00038,"t3":0.0004,"t4":0.0004,"t5":0.00042,"t6":0.0004},
{"d":"ST","a":64,"lo":0,"hi":0.0015,"s1":0.00017,"s2":0.00017,"s3":0.00016,"s4":0.00016,"s5":0.00017,"s6":0.00018,"t1":0.00055,"t2":0.00052,"t3":0.00055,"t4":0.00054,"t5":0.00058,"t6":0.00055},
{"d":"ST","a":68,"lo":0,"hi":0.0018,"s1":0.0002,"s2":0.0002,"s3":0.00019,"s4":0.00019,"s5":0.00021,"s6":0.00022,"t1":0.0007,"t2":0.00067,"t3":0.00071,"t4":0.0007,"t5":0.00074,"t6":0.0007},
{"d":"ST","a":72,"lo":0,"hi":0.002,"s1":0.00026,"s2":0.00025,"s3":0.00024,"s4":0.00024,"s5":0.00027,"s6":0.00028,"t1":0.0009,"t2":0.00086,"t3":0.00092,"t4":0.0009,"t5":0.00095,"t6":0.0009},
{"d":"ST","a":76,"lo":0,"hi":0.0024,"s1":0.00033,"s2":0.00032,"s3":0.0003,"s4":0.0003,"s5":0.00034,"s6":0.00036,"t1":0.0012,"t2":0.00115,"t3":0.00122,"t4":0.0012,"t5":0.00127,"t6":0.0012},
{"d":"ST","a":80,"lo":0,"hi":0.0029,"s1":0.0004,"s2":0.00039,"s3":0.00036,"s4":0.00036,"s5":0.00042,"s6":0.00045,"t1":0.0016,"t2":0.00153,"t3":0.00162,"t4":0.0016,"t5":0.0017,"t6":0.0016},
{"d":"ST","a":83,"lo":0,"hi":0.0034,"s1":0.0005,"s2":0.00048,"s3":0.00045,"s4":0.00044,"s5":0.00052,"s6":0.00055,"t1":0.002,"t2":0.0019,"t3":0.002,"t4":0.0019,"t5":0.0021,"t6":0.0021},
{"d":"ST","a":85,"lo":0,"hi":0.0055,"s1":0.0006,"s2":0.00057,"s3":0.0005,"s4":0.0005,"s5":0.00062,"s6":0.00068,"t1":0.0023,"t2":0.0022,"t3":0.0023,"t4":0.0021,"t5":0.0024,"t6":0.0025},
{"d":"ST","a":86,"lo":0,"hi":0.0045,"s1":0.00065,"s2":0.0006,"s3":0.00052,"s4":0.00052,"s5":0.00068,"s6":0.00075,"t1":0.0024,"t2":0.0023,"t3":0.0024,"t4":0.0022,"t5":0.0025,"t6":0.0028},
{"d":"ST","a":88,"lo":0,"hi":0.0047,"s1":0.0008,"s2":0.0007,"s3":0.0006,"s4":0.0005,"s5":0.001,"s6":0.0012,"t1":0.0028,"t2":0.0026,"t3":0.003,"t4":0.0024,"t5":0.0028,"t6":0.003},
{"d":"ST","a":89,"lo":0,"hi":0.0049,"s1":0.0009,"s2":0.0008,"s3":0.0007,"s4":0.0006,"s5":0.0011,"s6":0.0011,"t1":0.0018,"t2":0.002,"t3":0.0027,"t4":0.002,"t5":0.0022,"t6":0.0015},
{"d":"ST","a":90,"lo":0,"hi":0.0052,"s1":0.001,"s2":0.0009,"s3":0.0008,"s4":0.0007,"s5":0.0012,"s6":0.001,"t1":0.0015,"t2":0.0018,"t3":0.0033,"t4":0.0017,"t5":0.002,"t6":0.001},
{"d":"ST","a":91,"lo":0,"hi":0.006,"s1":0.0011,"s2":0.001,"s3":0.0009,"s4":0.0008,"s5":0.0014,"s6":0.0009,"t1":0.001,"t2":0.0012,"t3":0.0015,"t4":0.0012,"t5":0.0022,"t6":0.0008},
{"d":"ST","a":92,"lo":0,"hi":0.0072,"s1":0.0012,"s2":0.0011,"s3":0.0009,"s4":0.0008,"s5":0.0015,"s6":0.001,"t1":0.0008,"t2":0.001,"t3":0.0008,"t4":0.001,"t5":0.0028,"t6":0.0006},
{"d":"ST","a":93,"lo":0,"hi":0.0086,"s1":0.001,"s2":0.0008,"s3":0.0006,"s4":0.0006,"s5":0.0018,"s6":0.0007,"t1":0.0006,"t2":0.0007,"t3":0.0005,"t4":0.0007,"t5":0.0035,"t6":0.0004},
{"d":"ST","a":94,"lo":0,"hi":0.01,"s1":0.0008,"s2":0.0006,"s3":0.0004,"s4":0.0005,"s5":0.0022,"s6":0.0004,"t1":0.0005,"t2":0.0005,"t3":0.0003,"t4":0.0005,"t5":0.0032,"t6":0.0003},
{"d":"ST","a":95,"lo":0,"hi":0.01,"s1":0.0004,"s2":0.0003,"s3":0.0002,"s4":0.0002,"s5":0.0012,"s6":0.0002,"t1":0.0002,"t2":0.0002,"t3":0.0001,"t4":0.0002,"t5":0.0015,"t6":0.0001},
{"d":"ST","a":96,"lo":0,"hi":0.01,"s1":0,"s2":0,"s3":0,"s4":0,"s5":0,"s6":0,"t1":0,"t2":0,"t3":0,"t4":0,"t5":0,"t6":0},
{"d":"ST","a":99,"lo":0,"hi":0.01,"s1":0,"s2":0,"s3":0,"s4":0,"s5":0,"s6":0,"t1":0,"t2":0,"t3":0,"t4":0,"t5":0,"t6":0},

{"d":"UT","a":48,"lo":0,"hi":0.0008,"s1":0.0001,"s2":0.0001,"s3":0,"s4":0,"s5":0.0001,"s6":0.0002},
{"d":"UT","a":50,"lo":0,"hi":0.0011,"s1":0.0003,"s2":0.0002,"s3":0.0002,"s4":0.0001,"s5":0.0002,"s6":0.0003},
{"d":"UT","a":52,"lo":0,"hi":0.0013,"s1":0.0004,"s2":0.0004,"s3":0.0004,"s4":0.0002,"s5":0.0003,"s6":0.0004},
{"d":"UT","a":55,"lo":0.0001,"hi":0.0015,"s1":0.0006,"s2":0.0006,"s3":0.0006,"s4":0.0005,"s5":0.0005,"s6":0.0005},
{"d":"UT","a":58,"lo":0.00012,"hi":0.0017,"s1":0.00065,"s2":0.00065,"s3":0.0007,"s4":0.0006,"s5":0.0006,"s6":0.0007},
{"d":"UT","a":60,"lo":0.0002,"hi":0.0019,"s1":0.0007,"s2":0.0007,"s3":0.0009,"s4":0.0007,"s5":0.0007,"s6":0.0008},
{"d":"UT","a":62,"lo":0.00025,"hi":0.002,"s1":0.00075,"s2":0.00075,"s3":0.001,"s4":0.00075,"s5":0.00075,"s6":0.00082},
{"d":"UT","a":65,"lo":0.0003,"hi":0.002,"s1":0.0009,"s2":0.0009,"s3":0.001,"s4":0.0009,"s5":0.0008,"s6":0.0009},
{"d":"UT","a":68,"lo":0.00035,"hi":0.002,"s1":0.001,"s2":0.0009,"s3":0.00105,"s4":0.00095,"s5":0.0009,"s6":0.00095},
{"d":"UT","a":70,"lo":0.0004,"hi":0.002,"s1":0.0012,"s2":0.0009,"s3":0.0011,"s4":0.001,"s5":0.001,"s6":0.001},
{"d":"UT","a":72,"lo":0.0004,"hi":0.002,"s1":0.0011,"s2":0.00095,"s3":0.00115,"s4":0.00105,"s5":0.00105,"s6":0.00095},
{"d":"UT","a":74,"lo":0.0004,"hi":0.002,"s1":0.00105,"s2":0.001,"s3":0.0012,"s4":0.0011,"s5":0.0011,"s6":0.0009},
{"d":"UT","a":76,"lo":0.00035,"hi":0.002,"s1":0.001,"s2":0.001,"s3":0.001,"s4":0.0011,"s5":0.0013,"s6":0.0009},
{"d":"UT","a":78,"lo":0.0003,"hi":0.002,"s1":0.0012,"s2":0.0009,"s3":0.0008,"s4":0.00105,"s5":0.0011,"s6":0.0008},
{"d":"UT","a":80,"lo":0.0002,"hi":0.002,"s1":0.0011,"s2":0.0008,"s3":0.0009,"s4":0.001,"s5":0.0011,"s6":0.001},
{"d":"UT","a":82,"lo":0.0001,"hi":0.002,"s1":0.0013,"s2":0.0008,"s3":0.00085,"s4":0.001,"s5":0.0009,"s6":0.0012},
{"d":"UT","a":84,"lo":0,"hi":0.002,"s1":0.0014,"s2":0.0008,"s3":0.0008,"s4":0.0007,"s5":0.001,"s6":0.0013},
{"d":"UT","a":85,"lo":0,"hi":0.002,"s1":0.0012,"s2":0.0007,"s3":0.0009,"s4":0.0004,"s5":0.0008,"s6":0.0011},
{"d":"UT","a":86,"lo":0,"hi":0.002,"s1":0.0008,"s2":0.0006,"s3":0.001,"s4":0.0001,"s5":0.0003,"s6":0.0004},
{"d":"UT","a":87,"lo":0,"hi":0.002,"s1":0.0006,"s2":0.0007,"s3":0.0011,"s4":0,"s5":0.0004,"s6":0.0003},
{"d":"UT","a":88,"lo":0,"hi":0.002,"s1":0.0004,"s2":0.0007,"s3":0.0007,"s4":0,"s5":0.0006,"s6":0.0002},
{"d":"UT","a":89,"lo":0,"hi":0.002,"s1":0.0002,"s2":0,"s3":0,"s4":0,"s5":0.0008,"s6":0.00015},
{"d":"UT","a":90,"lo":0,"hi":0.002,"s1":0.0001,"s2":0,"s3":0,"s4":0,"s5":0.0009,"s6":0.0001},
{"d":"UT","a":91,"lo":0,"hi":0.002,"s1":0,"s2":0,"s3":0,"s4":0,"s5":0.0007,"s6":0},
{"d":"UT","a":92,"lo":0,"hi":0.002,"s1":0,"s2":0,"s3":0,"s4":0,"s5":0,"s6":0},
{"d":"UT","a":95,"lo":0,"hi":0.002,"s1":0,"s2":0,"s3":0,"s4":0,"s5":0,"s6":0},
{"d":"UT","a":99,"lo":0,"hi":0.002,"s1":0,"s2":0,"s3":0,"s4":0,"s5":0,"s6":0}
]},
"columns":3,
"spacing":{"row":3,"column":9.5},
"concat":[
{"spacing":0,"bounds":"flush","vconcat":[
 {"width":186,"height":24,"view":{"fill":"#d9d9d9","stroke":"#333333"},"data":{"values":[{"t":"Ischemic heart disease"}]},"mark":{"type":"text","fontSize":12,"color":"#1a1a1a"},"encoding":{"text":{"field":"t","type":"nominal"}}},
 {"width":186,"height":58,"data":{"name":"rows"},"transform":[{"filter":"datum.d === 'IHD'"}],
  "encoding":{"x":{"field":"a","type":"quantitative","scale":{"domain":[47.5,102.5],"nice":false,"zero":false},"axis":{"values":[50,55,60,65,70,75,80,85,90,95,100],"labels":false,"ticks":false,"title":null,"gridWidth":{"condition":{"test":"datum.value % 10 !== 0","value":0.6},"value":1.2}}}},
  "layer":[
   {"mark":{"type":"area","color":"#d3d3d3"},"encoding":{"y":{"field":"lo","type":"quantitative","scale":{"domain":[-0.0025,0.0525],"nice":false,"zero":false},"axis":{"values":[0,0.005,0.01,0.015,0.02,0.025,0.03,0.035,0.04,0.045,0.05],"format":".2f","title":null,"labelExpr":"abs(datum.value*100-round(datum.value*100))>0.01?'':datum.label","tickOpacity":{"condition":{"test":"abs(datum.value*100-round(datum.value*100))>0.01","value":0},"value":1},"gridWidth":{"condition":{"test":"abs(datum.value*100-round(datum.value*100))>0.01","value":0.6},"value":1.2}}},"y2":{"field":"hi"}}},
   {"transform":[{"fold":["s1","s2","s3","s4","s5","s6","t1","t2","t3","t4","t5","t6"],"as":["k","v"]},{"filter":"isValid(datum.v)"}],"mark":{"type":"line","strokeWidth":1.4,"clip":true},"encoding":{"y":{"field":"v","type":"quantitative","scale":{"domain":[-0.0025,0.0525],"nice":false,"zero":false},"axis":{"values":[0,0.005,0.01,0.015,0.02,0.025,0.03,0.035,0.04,0.045,0.05],"format":".2f","title":null,"labelExpr":"abs(datum.value*100-round(datum.value*100))>0.01?'':datum.label","tickOpacity":{"condition":{"test":"abs(datum.value*100-round(datum.value*100))>0.01","value":0},"value":1},"gridWidth":{"condition":{"test":"abs(datum.value*100-round(datum.value*100))>0.01","value":0.6},"value":1.2}}},"color":{"field":"k","type":"nominal","legend":null,"scale":{"domain":["s1","s2","s3","s4","s5","s6","t1","t2","t3","t4","t5","t6"],"range":["#F8766D","#B79F00","#00BA38","#00BFC4","#619CFF","#F564E3","#F8766D","#B79F00","#00BA38","#00BFC4","#619CFF","#F564E3"]}},"strokeDash":{"field":"k","type":"nominal","legend":null,"scale":{"domain":["s1","s2","s3","s4","s5","s6","t1","t2","t3","t4","t5","t6"],"range":[[1,0],[1,0],[1,0],[1,0],[1,0],[1,0],[4,3],[4,3],[4,3],[4,3],[4,3],[4,3]]}}}}
  ]}
]},
{"spacing":0,"bounds":"flush","vconcat":[
 {"width":186,"height":24,"view":{"fill":"#d9d9d9","stroke":"#333333"},"data":{"values":[{"t":"Stroke"}]},"mark":{"type":"text","fontSize":12,"color":"#1a1a1a"},"encoding":{"text":{"field":"t","type":"nominal"}}},
 {"width":186,"height":58,"data":{"name":"rows"},"transform":[{"filter":"datum.d === 'STR'"}],
  "encoding":{"x":{"field":"a","type":"quantitative","scale":{"domain":[47.5,102.5],"nice":false,"zero":false},"axis":{"values":[50,55,60,65,70,75,80,85,90,95,100],"labels":false,"ticks":false,"title":null,"gridWidth":{"condition":{"test":"datum.value % 10 !== 0","value":0.6},"value":1.2}}}},
  "layer":[
   {"mark":{"type":"area","color":"#d3d3d3"},"encoding":{"y":{"field":"lo","type":"quantitative","scale":{"domain":[-0.0025,0.0525],"nice":false,"zero":false},"axis":{"values":[0,0.005,0.01,0.015,0.02,0.025,0.03,0.035,0.04,0.045,0.05],"format":".2f","title":null,"labelExpr":"abs(datum.value*100-round(datum.value*100))>0.01?'':datum.label","tickOpacity":{"condition":{"test":"abs(datum.value*100-round(datum.value*100))>0.01","value":0},"value":1},"gridWidth":{"condition":{"test":"abs(datum.value*100-round(datum.value*100))>0.01","value":0.6},"value":1.2}}},"y2":{"field":"hi"}}},
   {"transform":[{"fold":["s1","s2","s3","s4","s5","s6","t1","t2","t3","t4","t5","t6"],"as":["k","v"]},{"filter":"isValid(datum.v)"}],"mark":{"type":"line","strokeWidth":1.4,"clip":true},"encoding":{"y":{"field":"v","type":"quantitative","scale":{"domain":[-0.0025,0.0525],"nice":false,"zero":false},"axis":{"values":[0,0.005,0.01,0.015,0.02,0.025,0.03,0.035,0.04,0.045,0.05],"format":".2f","title":null,"labelExpr":"abs(datum.value*100-round(datum.value*100))>0.01?'':datum.label","tickOpacity":{"condition":{"test":"abs(datum.value*100-round(datum.value*100))>0.01","value":0},"value":1},"gridWidth":{"condition":{"test":"abs(datum.value*100-round(datum.value*100))>0.01","value":0.6},"value":1.2}}},"color":{"field":"k","type":"nominal","legend":null,"scale":{"domain":["s1","s2","s3","s4","s5","s6","t1","t2","t3","t4","t5","t6"],"range":["#F8766D","#B79F00","#00BA38","#00BFC4","#619CFF","#F564E3","#F8766D","#B79F00","#00BA38","#00BFC4","#619CFF","#F564E3"]}},"strokeDash":{"field":"k","type":"nominal","legend":null,"scale":{"domain":["s1","s2","s3","s4","s5","s6","t1","t2","t3","t4","t5","t6"],"range":[[1,0],[1,0],[1,0],[1,0],[1,0],[1,0],[4,3],[4,3],[4,3],[4,3],[4,3],[4,3]]}}}}
  ]}
]},
{"spacing":0,"bounds":"flush","vconcat":[
 {"width":186,"height":24,"view":{"fill":"#d9d9d9","stroke":"#333333"},"data":{"values":[{"t":"Dementia"}]},"mark":{"type":"text","fontSize":12,"color":"#1a1a1a"},"encoding":{"text":{"field":"t","type":"nominal"}}},
 {"width":186,"height":58,"data":{"name":"rows"},"transform":[{"filter":"datum.d === 'DEM'"}],
  "encoding":{"x":{"field":"a","type":"quantitative","scale":{"domain":[47.5,102.5],"nice":false,"zero":false},"axis":{"values":[50,55,60,65,70,75,80,85,90,95,100],"labels":false,"ticks":false,"title":null,"gridWidth":{"condition":{"test":"datum.value % 10 !== 0","value":0.6},"value":1.2}}}},
  "layer":[
   {"mark":{"type":"area","color":"#d3d3d3"},"encoding":{"y":{"field":"lo","type":"quantitative","scale":{"domain":[-0.005,0.105],"nice":false,"zero":false},"axis":{"values":[0,0.0125,0.025,0.0375,0.05,0.0625,0.075,0.0875,0.1],"format":".3f","title":null,"labelExpr":"abs(datum.value*40-round(datum.value*40))>0.01?'':datum.label","tickOpacity":{"condition":{"test":"abs(datum.value*40-round(datum.value*40))>0.01","value":0},"value":1},"gridWidth":{"condition":{"test":"abs(datum.value*40-round(datum.value*40))>0.01","value":0.6},"value":1.2}}},"y2":{"field":"hi"}}},
   {"transform":[{"fold":["s1","s2","s3","s4","s5","s6","t1","t2","t3","t4","t5","t6"],"as":["k","v"]},{"filter":"isValid(datum.v)"}],"mark":{"type":"line","strokeWidth":1.4,"clip":true},"encoding":{"y":{"field":"v","type":"quantitative","scale":{"domain":[-0.005,0.105],"nice":false,"zero":false},"axis":{"values":[0,0.0125,0.025,0.0375,0.05,0.0625,0.075,0.0875,0.1],"format":".3f","title":null,"labelExpr":"abs(datum.value*40-round(datum.value*40))>0.01?'':datum.label","tickOpacity":{"condition":{"test":"abs(datum.value*40-round(datum.value*40))>0.01","value":0},"value":1},"gridWidth":{"condition":{"test":"abs(datum.value*40-round(datum.value*40))>0.01","value":0.6},"value":1.2}}},"color":{"field":"k","type":"nominal","legend":null,"scale":{"domain":["s1","s2","s3","s4","s5","s6","t1","t2","t3","t4","t5","t6"],"range":["#F8766D","#B79F00","#00BA38","#00BFC4","#619CFF","#F564E3","#F8766D","#B79F00","#00BA38","#00BFC4","#619CFF","#F564E3"]}},"strokeDash":{"field":"k","type":"nominal","legend":null,"scale":{"domain":["s1","s2","s3","s4","s5","s6","t1","t2","t3","t4","t5","t6"],"range":[[1,0],[1,0],[1,0],[1,0],[1,0],[1,0],[4,3],[4,3],[4,3],[4,3],[4,3],[4,3]]}}}}
  ]}
]},
{"spacing":0,"bounds":"flush","vconcat":[
 {"width":186,"height":24,"view":{"fill":"#d9d9d9","stroke":"#333333"},"data":{"values":[{"t":"COPD"}]},"mark":{"type":"text","fontSize":12,"color":"#1a1a1a"},"encoding":{"text":{"field":"t","type":"nominal"}}},
 {"width":186,"height":58,"data":{"name":"rows"},"transform":[{"filter":"datum.d === 'COPD'"}],
  "encoding":{"x":{"field":"a","type":"quantitative","scale":{"domain":[47.5,102.5],"nice":false,"zero":false},"axis":{"values":[50,55,60,65,70,75,80,85,90,95,100],"labels":false,"ticks":false,"title":null,"gridWidth":{"condition":{"test":"datum.value % 10 !== 0","value":0.6},"value":1.2}}}},
  "layer":[
   {"mark":{"type":"area","color":"#d3d3d3"},"encoding":{"y":{"field":"lo","type":"quantitative","scale":{"domain":[-0.005,0.105],"nice":false,"zero":false},"axis":{"values":[0,0.0125,0.025,0.0375,0.05,0.0625,0.075,0.0875,0.1],"format":".3f","title":null,"labelExpr":"abs(datum.value*40-round(datum.value*40))>0.01?'':datum.label","tickOpacity":{"condition":{"test":"abs(datum.value*40-round(datum.value*40))>0.01","value":0},"value":1},"gridWidth":{"condition":{"test":"abs(datum.value*40-round(datum.value*40))>0.01","value":0.6},"value":1.2}}},"y2":{"field":"hi"}}},
   {"transform":[{"fold":["s1","s2","s3","s4","s5","s6","t1","t2","t3","t4","t5","t6"],"as":["k","v"]},{"filter":"isValid(datum.v)"}],"mark":{"type":"line","strokeWidth":1.4,"clip":true},"encoding":{"y":{"field":"v","type":"quantitative","scale":{"domain":[-0.005,0.105],"nice":false,"zero":false},"axis":{"values":[0,0.0125,0.025,0.0375,0.05,0.0625,0.075,0.0875,0.1],"format":".3f","title":null,"labelExpr":"abs(datum.value*40-round(datum.value*40))>0.01?'':datum.label","tickOpacity":{"condition":{"test":"abs(datum.value*40-round(datum.value*40))>0.01","value":0},"value":1},"gridWidth":{"condition":{"test":"abs(datum.value*40-round(datum.value*40))>0.01","value":0.6},"value":1.2}}},"color":{"field":"k","type":"nominal","legend":null,"scale":{"domain":["s1","s2","s3","s4","s5","s6","t1","t2","t3","t4","t5","t6"],"range":["#F8766D","#B79F00","#00BA38","#00BFC4","#619CFF","#F564E3","#F8766D","#B79F00","#00BA38","#00BFC4","#619CFF","#F564E3"]}},"strokeDash":{"field":"k","type":"nominal","legend":null,"scale":{"domain":["s1","s2","s3","s4","s5","s6","t1","t2","t3","t4","t5","t6"],"range":[[1,0],[1,0],[1,0],[1,0],[1,0],[1,0],[4,3],[4,3],[4,3],[4,3],[4,3],[4,3]]}}}}
  ]}
]},
{"spacing":0,"bounds":"flush","vconcat":[
 {"width":186,"height":24,"view":{"fill":"#d9d9d9","stroke":"#333333"},"data":{"values":[{"t":"Breast cancer"}]},"mark":{"type":"text","fontSize":12,"color":"#1a1a1a"},"encoding":{"text":{"field":"t","type":"nominal"}}},
 {"width":186,"height":58,"data":{"name":"rows"},"transform":[{"filter":"datum.d === 'BR'"}],
  "encoding":{"x":{"field":"a","type":"quantitative","scale":{"domain":[47.5,102.5],"nice":false,"zero":false},"axis":{"values":[50,55,60,65,70,75,80,85,90,95,100],"labels":false,"ticks":false,"title":null,"gridWidth":{"condition":{"test":"datum.value % 10 !== 0","value":0.6},"value":1.2}}}},
  "layer":[
   {"mark":{"type":"area","color":"#d3d3d3"},"encoding":{"y":{"field":"lo","type":"quantitative","scale":{"domain":[-0.0015,0.0315],"nice":false,"zero":false},"axis":{"values":[0,0.005,0.01,0.015,0.02,0.025,0.03],"format":".2f","title":null,"labelExpr":"abs(datum.value*100-round(datum.value*100))>0.01?'':datum.label","tickOpacity":{"condition":{"test":"abs(datum.value*100-round(datum.value*100))>0.01","value":0},"value":1},"gridWidth":{"condition":{"test":"abs(datum.value*100-round(datum.value*100))>0.01","value":0.6},"value":1.2}}},"y2":{"field":"hi"}}},
   {"transform":[{"fold":["s1","s2","s3","s4","s5","s6","t1","t2","t3","t4","t5","t6"],"as":["k","v"]},{"filter":"isValid(datum.v)"}],"mark":{"type":"line","strokeWidth":1.4,"clip":true},"encoding":{"y":{"field":"v","type":"quantitative","scale":{"domain":[-0.0015,0.0315],"nice":false,"zero":false},"axis":{"values":[0,0.005,0.01,0.015,0.02,0.025,0.03],"format":".2f","title":null,"labelExpr":"abs(datum.value*100-round(datum.value*100))>0.01?'':datum.label","tickOpacity":{"condition":{"test":"abs(datum.value*100-round(datum.value*100))>0.01","value":0},"value":1},"gridWidth":{"condition":{"test":"abs(datum.value*100-round(datum.value*100))>0.01","value":0.6},"value":1.2}}},"color":{"field":"k","type":"nominal","legend":null,"scale":{"domain":["s1","s2","s3","s4","s5","s6","t1","t2","t3","t4","t5","t6"],"range":["#F8766D","#B79F00","#00BA38","#00BFC4","#619CFF","#F564E3","#F8766D","#B79F00","#00BA38","#00BFC4","#619CFF","#F564E3"]}},"strokeDash":{"field":"k","type":"nominal","legend":null,"scale":{"domain":["s1","s2","s3","s4","s5","s6","t1","t2","t3","t4","t5","t6"],"range":[[1,0],[1,0],[1,0],[1,0],[1,0],[1,0],[4,3],[4,3],[4,3],[4,3],[4,3],[4,3]]}}}}
  ]}
]},
{"spacing":0,"bounds":"flush","vconcat":[
 {"width":186,"height":24,"view":{"fill":"#d9d9d9","stroke":"#333333"},"data":{"values":[{"t":"Lung cancer"}]},"mark":{"type":"text","fontSize":12,"color":"#1a1a1a"},"encoding":{"text":{"field":"t","type":"nominal"}}},
 {"width":186,"height":58,"data":{"name":"rows"},"transform":[{"filter":"datum.d === 'LU'"}],
  "encoding":{"x":{"field":"a","type":"quantitative","scale":{"domain":[47.5,102.5],"nice":false,"zero":false},"axis":{"values":[50,55,60,65,70,75,80,85,90,95,100],"labels":false,"ticks":false,"title":null,"gridWidth":{"condition":{"test":"datum.value % 10 !== 0","value":0.6},"value":1.2}}}},
  "layer":[
   {"mark":{"type":"area","color":"#d3d3d3"},"encoding":{"y":{"field":"lo","type":"quantitative","scale":{"domain":[-0.0015,0.0315],"nice":false,"zero":false},"axis":{"values":[0,0.005,0.01,0.015,0.02,0.025,0.03],"format":".2f","title":null,"labelExpr":"abs(datum.value*100-round(datum.value*100))>0.01?'':datum.label","tickOpacity":{"condition":{"test":"abs(datum.value*100-round(datum.value*100))>0.01","value":0},"value":1},"gridWidth":{"condition":{"test":"abs(datum.value*100-round(datum.value*100))>0.01","value":0.6},"value":1.2}}},"y2":{"field":"hi"}}},
   {"transform":[{"fold":["s1","s2","s3","s4","s5","s6","t1","t2","t3","t4","t5","t6"],"as":["k","v"]},{"filter":"isValid(datum.v)"}],"mark":{"type":"line","strokeWidth":1.4,"clip":true},"encoding":{"y":{"field":"v","type":"quantitative","scale":{"domain":[-0.0015,0.0315],"nice":false,"zero":false},"axis":{"values":[0,0.005,0.01,0.015,0.02,0.025,0.03],"format":".2f","title":null,"labelExpr":"abs(datum.value*100-round(datum.value*100))>0.01?'':datum.label","tickOpacity":{"condition":{"test":"abs(datum.value*100-round(datum.value*100))>0.01","value":0},"value":1},"gridWidth":{"condition":{"test":"abs(datum.value*100-round(datum.value*100))>0.01","value":0.6},"value":1.2}}},"color":{"field":"k","type":"nominal","legend":null,"scale":{"domain":["s1","s2","s3","s4","s5","s6","t1","t2","t3","t4","t5","t6"],"range":["#F8766D","#B79F00","#00BA38","#00BFC4","#619CFF","#F564E3","#F8766D","#B79F00","#00BA38","#00BFC4","#619CFF","#F564E3"]}},"strokeDash":{"field":"k","type":"nominal","legend":null,"scale":{"domain":["s1","s2","s3","s4","s5","s6","t1","t2","t3","t4","t5","t6"],"range":[[1,0],[1,0],[1,0],[1,0],[1,0],[1,0],[4,3],[4,3],[4,3],[4,3],[4,3],[4,3]]}}}}
  ]}
]},
{"spacing":0,"bounds":"flush","vconcat":[
 {"width":186,"height":24,"view":{"fill":"#d9d9d9","stroke":"#333333"},"data":{"values":[{"t":"Colon and rectum cancer"}]},"mark":{"type":"text","fontSize":12,"color":"#1a1a1a"},"encoding":{"text":{"field":"t","type":"nominal"}}},
 {"width":186,"height":58,"data":{"name":"rows"},"transform":[{"filter":"datum.d === 'CO'"}],
  "encoding":{"x":{"field":"a","type":"quantitative","scale":{"domain":[47.5,102.5],"nice":false,"zero":false},"axis":{"values":[50,55,60,65,70,75,80,85,90,95,100],"title":null,"labelExpr":"datum.value % 10 === 0 ? datum.label : ''","tickOpacity":{"condition":{"test":"datum.value % 10 !== 0","value":0},"value":1},"gridWidth":{"condition":{"test":"datum.value % 10 !== 0","value":0.6},"value":1.2}}}},
  "layer":[
   {"mark":{"type":"area","color":"#d3d3d3"},"encoding":{"y":{"field":"lo","type":"quantitative","scale":{"domain":[-0.0015,0.0315],"nice":false,"zero":false},"axis":{"values":[0,0.005,0.01,0.015,0.02,0.025,0.03],"format":".2f","title":null,"labelExpr":"abs(datum.value*100-round(datum.value*100))>0.01?'':datum.label","tickOpacity":{"condition":{"test":"abs(datum.value*100-round(datum.value*100))>0.01","value":0},"value":1},"gridWidth":{"condition":{"test":"abs(datum.value*100-round(datum.value*100))>0.01","value":0.6},"value":1.2}}},"y2":{"field":"hi"}}},
   {"transform":[{"fold":["s1","s2","s3","s4","s5","s6","t1","t2","t3","t4","t5","t6"],"as":["k","v"]},{"filter":"isValid(datum.v)"}],"mark":{"type":"line","strokeWidth":1.4,"clip":true},"encoding":{"y":{"field":"v","type":"quantitative","scale":{"domain":[-0.0015,0.0315],"nice":false,"zero":false},"axis":{"values":[0,0.005,0.01,0.015,0.02,0.025,0.03],"format":".2f","title":null,"labelExpr":"abs(datum.value*100-round(datum.value*100))>0.01?'':datum.label","tickOpacity":{"condition":{"test":"abs(datum.value*100-round(datum.value*100))>0.01","value":0},"value":1},"gridWidth":{"condition":{"test":"abs(datum.value*100-round(datum.value*100))>0.01","value":0.6},"value":1.2}}},"color":{"field":"k","type":"nominal","legend":null,"scale":{"domain":["s1","s2","s3","s4","s5","s6","t1","t2","t3","t4","t5","t6"],"range":["#F8766D","#B79F00","#00BA38","#00BFC4","#619CFF","#F564E3","#F8766D","#B79F00","#00BA38","#00BFC4","#619CFF","#F564E3"]}},"strokeDash":{"field":"k","type":"nominal","legend":null,"scale":{"domain":["s1","s2","s3","s4","s5","s6","t1","t2","t3","t4","t5","t6"],"range":[[1,0],[1,0],[1,0],[1,0],[1,0],[1,0],[4,3],[4,3],[4,3],[4,3],[4,3],[4,3]]}}}}
  ]}
]},
{"spacing":0,"bounds":"flush","vconcat":[
 {"width":186,"height":24,"view":{"fill":"#d9d9d9","stroke":"#333333"},"data":{"values":[{"t":"Stomach cancer"}]},"mark":{"type":"text","fontSize":12,"color":"#1a1a1a"},"encoding":{"text":{"field":"t","type":"nominal"}}},
 {"width":186,"height":58,"data":{"name":"rows"},"transform":[{"filter":"datum.d === 'ST'"}],
  "encoding":{"x":{"field":"a","type":"quantitative","scale":{"domain":[47.5,102.5],"nice":false,"zero":false},"axis":{"values":[50,55,60,65,70,75,80,85,90,95,100],"title":"Year of age","labelExpr":"datum.value % 10 === 0 ? datum.label : ''","tickOpacity":{"condition":{"test":"datum.value % 10 !== 0","value":0},"value":1},"gridWidth":{"condition":{"test":"datum.value % 10 !== 0","value":0.6},"value":1.2}}}},
  "layer":[
   {"mark":{"type":"area","color":"#d3d3d3"},"encoding":{"y":{"field":"lo","type":"quantitative","scale":{"domain":[-0.0005,0.0105],"nice":false,"zero":false},"axis":{"values":[0,0.00125,0.0025,0.00375,0.005,0.00625,0.0075,0.00875,0.01],"format":".4f","title":null,"labelExpr":"abs(datum.value*400-round(datum.value*400))>0.01?'':datum.label","tickOpacity":{"condition":{"test":"abs(datum.value*400-round(datum.value*400))>0.01","value":0},"value":1},"gridWidth":{"condition":{"test":"abs(datum.value*400-round(datum.value*400))>0.01","value":0.6},"value":1.2}}},"y2":{"field":"hi"}}},
   {"transform":[{"fold":["s1","s2","s3","s4","s5","s6","t1","t2","t3","t4","t5","t6"],"as":["k","v"]},{"filter":"isValid(datum.v)"}],"mark":{"type":"line","strokeWidth":1.4,"clip":true},"encoding":{"y":{"field":"v","type":"quantitative","scale":{"domain":[-0.0005,0.0105],"nice":false,"zero":false},"axis":{"values":[0,0.00125,0.0025,0.00375,0.005,0.00625,0.0075,0.00875,0.01],"format":".4f","title":null,"labelExpr":"abs(datum.value*400-round(datum.value*400))>0.01?'':datum.label","tickOpacity":{"condition":{"test":"abs(datum.value*400-round(datum.value*400))>0.01","value":0},"value":1},"gridWidth":{"condition":{"test":"abs(datum.value*400-round(datum.value*400))>0.01","value":0.6},"value":1.2}}},"color":{"field":"k","type":"nominal","legend":null,"scale":{"domain":["s1","s2","s3","s4","s5","s6","t1","t2","t3","t4","t5","t6"],"range":["#F8766D","#B79F00","#00BA38","#00BFC4","#619CFF","#F564E3","#F8766D","#B79F00","#00BA38","#00BFC4","#619CFF","#F564E3"]}},"strokeDash":{"field":"k","type":"nominal","legend":null,"scale":{"domain":["s1","s2","s3","s4","s5","s6","t1","t2","t3","t4","t5","t6"],"range":[[1,0],[1,0],[1,0],[1,0],[1,0],[1,0],[4,3],[4,3],[4,3],[4,3],[4,3],[4,3]]}}}}
  ]}
]},
{"spacing":0,"bounds":"flush","vconcat":[
 {"width":186,"height":24,"view":{"fill":"#d9d9d9","stroke":"#333333"},"data":{"values":[{"t":"Uterine cancer"}]},"mark":{"type":"text","fontSize":12,"color":"#1a1a1a"},"encoding":{"text":{"field":"t","type":"nominal"}}},
 {"width":186,"height":58,"data":{"name":"rows"},"transform":[{"filter":"datum.d === 'UT'"}],
  "encoding":{"x":{"field":"a","type":"quantitative","scale":{"domain":[47.5,102.5],"nice":false,"zero":false},"axis":{"values":[50,55,60,65,70,75,80,85,90,95,100],"title":null,"labelExpr":"datum.value % 10 === 0 ? datum.label : ''","tickOpacity":{"condition":{"test":"datum.value % 10 !== 0","value":0},"value":1},"gridWidth":{"condition":{"test":"datum.value % 10 !== 0","value":0.6},"value":1.2}}}},
  "layer":[
   {"mark":{"type":"area","color":"#d3d3d3"},"encoding":{"y":{"field":"lo","type":"quantitative","scale":{"domain":[-0.0001,0.0021],"nice":false,"zero":false},"axis":{"values":[0,0.00025,0.0005,0.00075,0.001,0.00125,0.0015,0.00175,0.002],"format":".4f","title":null,"labelExpr":"abs(datum.value*2000-round(datum.value*2000))>0.01?'':datum.label","tickOpacity":{"condition":{"test":"abs(datum.value*2000-round(datum.value*2000))>0.01","value":0},"value":1},"gridWidth":{"condition":{"test":"abs(datum.value*2000-round(datum.value*2000))>0.01","value":0.6},"value":1.2}}},"y2":{"field":"hi"}}},
   {"transform":[{"fold":["s1","s2","s3","s4","s5","s6","t1","t2","t3","t4","t5","t6"],"as":["k","v"]},{"filter":"isValid(datum.v)"}],"mark":{"type":"line","strokeWidth":1.4,"clip":true},"encoding":{"y":{"field":"v","type":"quantitative","scale":{"domain":[-0.0001,0.0021],"nice":false,"zero":false},"axis":{"values":[0,0.00025,0.0005,0.00075,0.001,0.00125,0.0015,0.00175,0.002],"format":".4f","title":null,"labelExpr":"abs(datum.value*2000-round(datum.value*2000))>0.01?'':datum.label","tickOpacity":{"condition":{"test":"abs(datum.value*2000-round(datum.value*2000))>0.01","value":0},"value":1},"gridWidth":{"condition":{"test":"abs(datum.value*2000-round(datum.value*2000))>0.01","value":0.6},"value":1.2}}},"color":{"field":"k","type":"nominal","legend":null,"scale":{"domain":["s1","s2","s3","s4","s5","s6","t1","t2","t3","t4","t5","t6"],"range":["#F8766D","#B79F00","#00BA38","#00BFC4","#619CFF","#F564E3","#F8766D","#B79F00","#00BA38","#00BFC4","#619CFF","#F564E3"]}},"strokeDash":{"field":"k","type":"nominal","legend":null,"scale":{"domain":["s1","s2","s3","s4","s5","s6","t1","t2","t3","t4","t5","t6"],"range":[[1,0],[1,0],[1,0],[1,0],[1,0],[1,0],[4,3],[4,3],[4,3],[4,3],[4,3],[4,3]]}}}}
  ]}
]}
]
}
